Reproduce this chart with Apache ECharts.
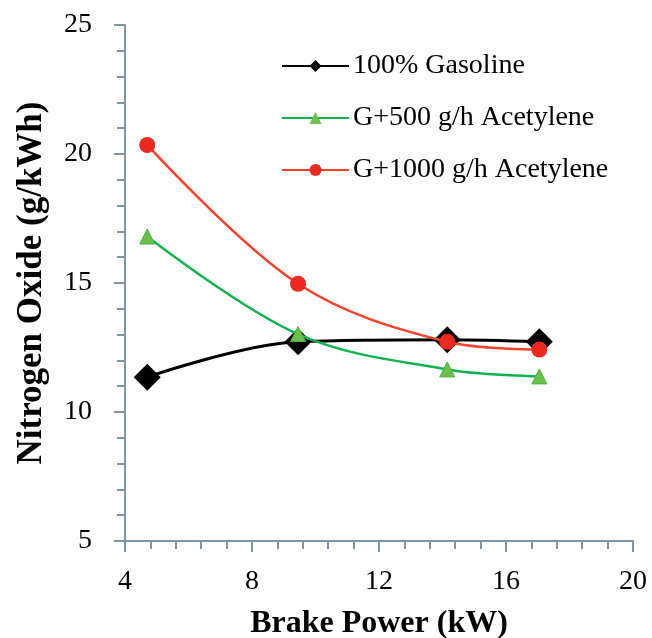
<!DOCTYPE html>
<html>
<head>
<meta charset="utf-8">
<script src="https://cdn.jsdelivr.net/npm/echarts@6/dist/echarts.min.js"></script>
<style>
  html, body { margin: 0; padding: 0; background: #fff; }
  #plot { width: 652px; height: 638px; }
</style>
</head>
<body>
<div id="plot"></div>
<script>
"use strict";

// Brake power (kW) at each test point.
var brakePower = [4.7, 9.45, 14.15, 17.05];

// Nitrogen oxide (g/kWh).
var gasoline = [11.35, 12.72, 12.8, 12.72];
var acet500 = [16.8, 13.02, 11.65, 11.38];
var acet1000 = [20.35, 14.97, 12.72, 12.42];

var seriesNames = ['100% Gasoline', 'G+500 g/h Acetylene', 'G+1000 g/h Acetylene'];

var xTicks = [4, 8, 12, 16, 20];
var yTicks = [5, 10, 15, 20, 25];

var axisColor = '#8094a6';
var serif = '"Liberation Serif", "DejaVu Serif", serif';

function pairs(xs, ys) {
  return xs.map(function (x, i) { return [x, ys[i]]; });
}

function axisCommon() {
  return {
    axisLine: { show: true, onZero: false, lineStyle: { color: axisColor, width: 2 } },
    axisTick: { show: true, inside: false, length: 11, lineStyle: { color: axisColor, width: 2 } },
    minorTick: { show: true, splitNumber: 5, length: 8, lineStyle: { color: axisColor, width: 2 } },
    splitLine: { show: false },
    axisLabel: { color: '#000', fontFamily: serif, fontSize: 28 },
    nameTextStyle: { color: '#000', fontFamily: serif, fontSize: 32, fontWeight: 'bold' },
    nameLocation: 'middle'
  };
}

var xAxis = axisCommon();
xAxis.type = 'value';
xAxis.min = xTicks[0];
xAxis.max = xTicks[xTicks.length - 1];
xAxis.interval = xTicks[1] - xTicks[0];
xAxis.name = 'Brake Power (kW)';
xAxis.nameGap = 67;
xAxis.axisLabel.margin = 27;

var yAxis = axisCommon();
yAxis.type = 'value';
yAxis.min = yTicks[0];
yAxis.max = yTicks[yTicks.length - 1];
yAxis.interval = yTicks[1] - yTicks[0];
yAxis.name = 'Nitrogen Oxide (g/kWh)';
yAxis.nameRotate = 90;
yAxis.nameGap = 76;
yAxis.nameTextStyle.fontSize = 35;
yAxis.axisLabel.margin = 33;

var chart = echarts.init(document.getElementById('plot'), null, { renderer: 'canvas' });
chart.setOption({
  animation: false,
  backgroundColor: '#fff',
  grid: { left: 125, right: 19, top: 25, bottom: 97, containLabel: false, outerBoundsMode: 'none' },
  legend: {
    orient: 'vertical',
    left: 281,
    top: 52,
    padding: 0,
    itemWidth: 67,
    itemHeight: 15,
    itemGap: 24,
    itemStyle: { borderWidth: 0 },
    textStyle: { color: '#000', fontFamily: serif, fontSize: 28, padding: [0, 0, 0, -1] },
    data: seriesNames
  },
  xAxis: xAxis,
  yAxis: yAxis,
  series: [
    {
      name: seriesNames[0],
      type: 'line',
      smooth: 0.35,
      data: pairs(brakePower, gasoline),
      symbol: 'diamond',
      symbolSize: 27,
      lineStyle: { color: '#000', width: 3 },
      itemStyle: { color: '#000' },
      z: 3
    },
    {
      name: seriesNames[1],
      type: 'line',
      smooth: 0.35,
      data: pairs(brakePower, acet500),
      symbol: 'triangle',
      symbolSize: 15,
      lineStyle: { color: '#12b24e', width: 2.5 },
      itemStyle: { color: '#6cbf4a', borderColor: '#4fb447', borderWidth: 1 },
      z: 4
    },
    {
      name: seriesNames[2],
      type: 'line',
      smooth: 0.35,
      data: pairs(brakePower, acet1000),
      symbol: 'circle',
      symbolSize: 16,
      lineStyle: { color: '#f4432c', width: 2.5 },
      itemStyle: { color: '#ea2a22' },
      z: 5
    }
  ]
});
</script>
</body>
</html>
